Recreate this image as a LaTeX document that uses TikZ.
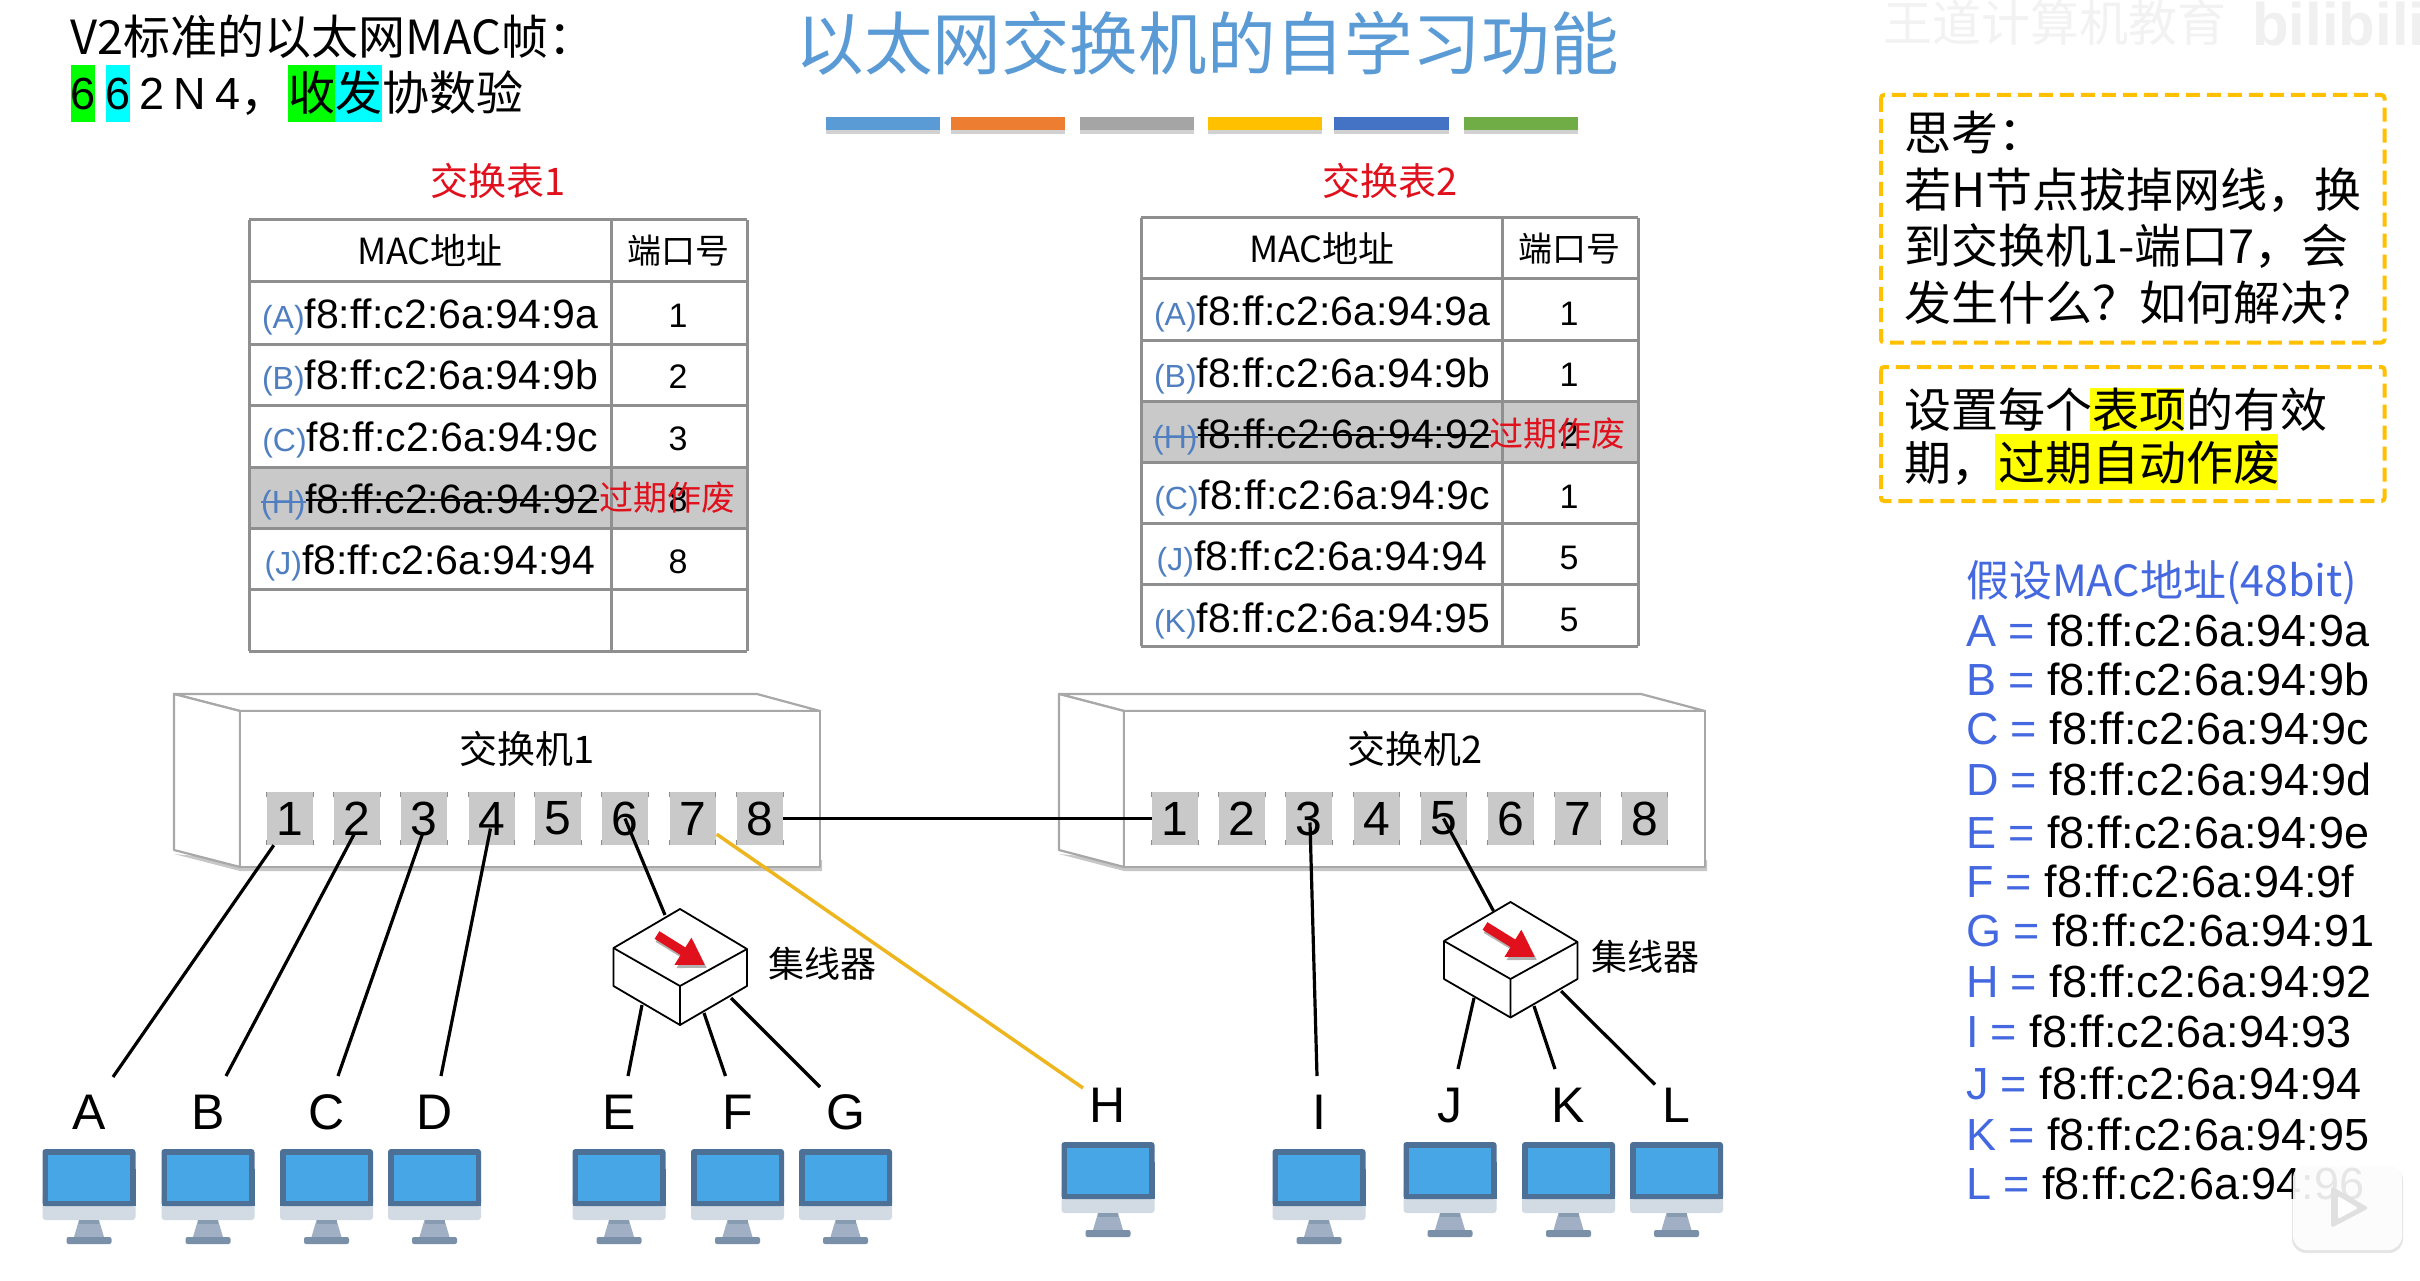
\documentclass[tikz,border=0pt]{standalone}
\usepackage{fontspec}
\setmainfont{Liberation Sans}
\newfontfamily\cjk{Noto Sans CJK SC}
\usetikzlibrary{arrows.meta}
\newcommand\myfs[1]{\fontsize{#1}{#1}\selectfont}
\newsavebox\strkbox
\newcommand\strk[1]{\sbox\strkbox{#1}\rlap{\usebox\strkbox}\rule[.3em]{\wd\strkbox}{2pt}}
\definecolor{titleblue}{HTML}{5B9BD5}
\definecolor{barorange}{HTML}{ED7D31}
\definecolor{bargray}{HTML}{A5A5A5}
\definecolor{baryellow}{HTML}{FFC000}
\definecolor{bardark}{HTML}{4472C4}
\definecolor{bargreen}{HTML}{70AD47}
\definecolor{listblue}{HTML}{4468E0}
\definecolor{tagblue}{HTML}{4F7FC0}
\definecolor{tline}{HTML}{8F8F8F}
\definecolor{rowgray}{HTML}{C9C9C9}
\definecolor{swline}{HTML}{A8A8A8}
\definecolor{wireorange}{HTML}{EDB61F}
\definecolor{hotred}{HTML}{E0101C}
\definecolor{pcframe}{HTML}{4D7096}
\definecolor{pcscreen}{HTML}{47A6E6}
\definecolor{pcchin}{HTML}{D2DAE4}
\definecolor{pcstand}{HTML}{A0AFC3}
\definecolor{pcbase}{HTML}{7A90A8}
\definecolor{hlgreen}{HTML}{00FF00}
\definecolor{hlcyan}{HTML}{00FFFF}
\definecolor{hlyellow}{HTML}{FFFF00}
\tikzset{
  x=1pt,y=-1pt,
  txt/.style={inner sep=0pt,outer sep=0pt,anchor=base},
  txtw/.style={inner sep=0pt,outer sep=0pt,anchor=base west},
  tbl/.style={draw=tline,line width=3pt},
  wire/.style={draw=black,line width=3.2pt},
  portbox/.style={fill=rowgray,inner sep=0pt,minimum width=46pt,minimum height=53pt,font=\myfs{48}},
  swbox/.style={draw=swline,line width=2.2pt,fill=white,line join=round},
  hubline/.style={draw=black,line width=1.8pt,fill=white,line join=round},
  dashbox/.style={draw=baryellow,line width=4pt,dash pattern=on 14pt off 7pt,rounded corners=3pt},
  pc/.pic={
    \fill[pcchin,rounded corners=3pt] (-46.5,45) rectangle (46.5,71);
    \fill[pcframe,rounded corners=3pt] (-46.5,0) rectangle (46.5,57);
    \fill[pcframe] (-46.5,20) rectangle (46.5,57);
    \fill[pcscreen] (-41,5.5) rectangle (41,51.5);
    \fill[pcstand] (-10,71) -- (10,71) -- (15,88) -- (-15,88) -- cycle;
    \fill[pcbase!90] (-10,71) rectangle (10,75);
    \fill[pcbase,rounded corners=2pt] (-22.5,88) rectangle (22.5,95);
  }
}
\begin{document}
\begin{tikzpicture}
\useasboundingbox (0,0) rectangle (2420,1281);
\fill[white] (0,0) rectangle (2420,1281);

% faint watermark
\node[txtw,text=black!5,font=\cjk\myfs{49}] (wm1) at (1883,42) {王道计算机教育};
\node[txtw,text=black!6,font=\bfseries\myfs{60}] (wm2) at (2252,46) {bilibili};

% frame summary, top left
\fill[hlgreen] (71,65) rectangle (95,122);
\fill[hlcyan] (106,65) rectangle (130,122);
\fill[hlgreen] (288,65) rectangle (335,122);
\fill[hlcyan] (335,65) rectangle (382,122);
\node[txtw,font=\cjk\myfs{47}] (hdr) at (70,55) {V2标准的以太网MAC帧：};
\foreach \c/\x [count=\i] in {6/83,6/118,2/152,N/190,4/228}
  \node[txt,font=\myfs{45}] (fld\i) at (\x,110) {\c};
\node[txtw,font=\cjk\myfs{47}] (fldc) at (240,111) {，};
\node[txtw,font=\cjk\myfs{47}] (fldt) at (288,111) {收发协数验};

% title and colour bars
\node[txt,font=\cjk\myfs{68.6},text=titleblue] (title) at (1207,70) {以太网交换机的自学习功能};
\foreach \a/\b/\c in {826/940/titleblue,951/1065/barorange,1080/1194/bargray,1208/1322/baryellow,1334/1449/bardark,1464/1578/bargreen}{
  \fill[black,opacity=.18] (\a,119) rectangle (\b,134);
  \fill[\c] (\a,117) rectangle (\b,130);
}

% table 1
\node[txt,font=\cjk\myfs{38},text=hotred] (tt1) at (498,196) {交换表1};
\fill[rowgray] (249,467) rectangle (747,528);
\foreach \y in {220,282,344,405,467,528,589,651}
  \draw[tbl] (249,\y) -- (747,\y);
\foreach \x in {249,611,747}
  \draw[tbl] (\x,220) -- (\x,651);
\node[txt,font=\cjk\myfs{36}] (h1a) at (430,265) {MAC地址};
\node[txt,font=\cjk\myfs{34}] (h1b) at (678,264) {端口号};
\foreach \y/\t/\a/\p [count=\i] in {328/A/9a/1,389/B/9b/2,451/C/9c/3,574/J/94/8}{
  \node[txt] (r1a\i) at (430,\y) {\myfs{32}\textcolor{tagblue}{(\t)}\myfs{41}f8:ff:c2:6a:94:\a};
  \node[txt,font=\myfs{34}] (r1b\i) at (678,\y-1) {\p};
}
\node[txt] (r1h) at (430,513) {\myfs{32}\textcolor{tagblue}{\strk{(H)}}\myfs{41}\strk{f8:ff:c2:6a:94:92}};
\node[txt,font=\myfs{34}] (r1hp) at (678,511) {8};
\node[txt,font=\cjk\myfs{34},text=hotred] (r1x) at (667,510) {过期作废};

% table 2
\node[txt,font=\cjk\myfs{38},text=hotred] (tt2) at (1390,196) {交换表2};
\fill[rowgray] (1141,401) rectangle (1638,462);
\foreach \y in {218,278.5,340,401,462,523,584,646}
  \draw[tbl] (1141,\y) -- (1638,\y);
\foreach \x in {1141,1502,1638}
  \draw[tbl] (\x,218) -- (\x,646);
\node[txt,font=\cjk\myfs{36}] (h2a) at (1322,263) {MAC地址};
\node[txt,font=\cjk\myfs{34}] (h2b) at (1569,262) {端口号};
\foreach \y/\t/\a/\p [count=\i] in {326/A/9a/1,387/B/9b/1,509/C/9c/1,570/J/94/5,632/K/95/5}{
  \node[txt] (r2a\i) at (1322,\y) {\myfs{32}\textcolor{tagblue}{(\t)}\myfs{41}f8:ff:c2:6a:94:\a};
  \node[txt,font=\myfs{34}] (r2b\i) at (1569,\y-1) {\p};
}
\node[txt] (r2h) at (1322,448) {\myfs{32}\textcolor{tagblue}{\strk{(H)}}\myfs{41}\strk{f8:ff:c2:6a:94:92}};
\node[txt,font=\myfs{34}] (r2hp) at (1569,446) {2};
\node[txt,font=\cjk\myfs{34},text=hotred] (r2x) at (1557,446) {过期作废};

% switch 1
\fill[black,opacity=.22] (174,854) -- (240,871) -- (822,871) -- (822,860) -- (240,860) -- cycle;
\draw[swbox] (174,694) -- (757,694) -- (820,711) -- (240,711) -- cycle;
\draw[swbox] (174,694) -- (240,711) -- (240,867) -- (174,850) -- cycle;
\draw[swbox] (240,711) rectangle (820,867);
\node[txt,font=\cjk\myfs{38}] (sw1) at (527,763) {交换机1};
\foreach \n/\x in {1/290,2/357,3/424,4/491.5,5/558,6/625,7/692.5,8/760}{
  \node[portbox] (sa\n) at (\x,818.5) {\n};
  \draw[black!45,line width=1.2pt] (sa\n.north west) -- ++(0,5) (sa\n.north east) -- ++(0,5) (sa\n.south west) -- ++(0,-5) (sa\n.south east) -- ++(0,-5);
}

% switch 2
\fill[black,opacity=.22] (1059,854) -- (1124,871) -- (1707,871) -- (1707,860) -- (1124,860) -- cycle;
\draw[swbox] (1059,694) -- (1641,694) -- (1705,711) -- (1124,711) -- cycle;
\draw[swbox] (1059,694) -- (1124,711) -- (1124,867) -- (1059,850) -- cycle;
\draw[swbox] (1124,711) rectangle (1705,867);
\node[txt,font=\cjk\myfs{38}] (sw2) at (1415,763) {交换机2};
\foreach \n/\x in {1/1175,2/1242,3/1309,4/1376.5,5/1443.5,6/1510.5,7/1577.5,8/1644.5}{
  \node[portbox] (sb\n) at (\x,818.5) {\n};
  \draw[black!45,line width=1.2pt] (sb\n.north west) -- ++(0,5) (sb\n.north east) -- ++(0,5) (sb\n.south west) -- ++(0,-5) (sb\n.south east) -- ++(0,-5);
}

% hub 1
\draw[hubline] (680,909) -- (747,949) -- (747,986) -- (680,1025) -- (613.5,986) -- (613.5,948) -- cycle;
\draw[hubline,fill=none] (613.5,948) -- (680,986) -- (747,949) (680,986) -- (680,1025);
\draw[draw=black,opacity=.3,line width=9pt,-{Triangle[length=26pt,width=30pt]}] (658,938) -- (707,968);
\draw[draw=hotred,line width=9pt,-{Triangle[length=26pt,width=30pt]}] (657,935) -- (705,965);
\node[txt,font=\cjk\myfs{36}] (hub1) at (822,977) {集线器};

% hub 2
\draw[hubline] (1510.5,902) -- (1577.5,942) -- (1577.5,979) -- (1510.5,1017.5) -- (1444,979) -- (1444,941) -- cycle;
\draw[hubline,fill=none] (1444,941) -- (1510.5,979) -- (1577.5,942) (1510.5,979) -- (1510.5,1017.5);
\draw[draw=black,opacity=.3,line width=9pt,-{Triangle[length=26pt,width=30pt]}] (1486,929) -- (1537,960);
\draw[draw=hotred,line width=9pt,-{Triangle[length=26pt,width=30pt]}] (1485,926) -- (1535,957);
\node[txt,font=\cjk\myfs{36}] (hub2) at (1645,970) {集线器};

% computers and their labels
\foreach \n/\x/\y in {A/89/1149,B/208/1149,C/326.5/1149,D/434.5/1149,E/619/1149,F/737.5/1149,G/845.5/1149,H/1108/1142,I/1319/1149,J/1450/1142,K/1568.5/1142,L/1676.5/1142}{
  \pic at (\x,\y) {pc};
  \node[txt,font=\myfs{50}] (lbl\n) at (\x,\y-20) {\n};
}

% connector ends
\coordinate (endA) at (113,1077);
\coordinate (endB) at (226,1076);
\coordinate (endC) at (338,1076);
\coordinate (endD) at (441,1076);
\coordinate (endE) at (628,1076);
\coordinate (endF) at (725.5,1076);
\coordinate (endG) at (820,1087);
\coordinate (endH) at (1083,1088);
\coordinate (endI) at (1317,1076);
\coordinate (endJ) at (1458,1069);
\coordinate (endK) at (1555,1069);
\coordinate (endL) at (1655,1084.5);
\coordinate (hubA) at (665,915);
\coordinate (hubAe) at (642,1005);
\coordinate (hubAf) at (704,1013);
\coordinate (hubAg) at (731,998);
\coordinate (hubB) at (1493.5,911);
\coordinate (hubBj) at (1474,998);
\coordinate (hubBk) at (1534,1006);
\coordinate (hubBl) at (1561,991);

% connectors
\draw[wire] (sa1.south west) ++(7,0) -- (endA);
\draw[wire] ([shift={(-2,14)}]sa2.center) -- (endB);
\draw[wire] ([shift={(-1,14)}]sa3.center) -- (endC);
\draw[wire] ([shift={(-1,10)}]sa4.center) -- (endD);
\draw[wire] (sa6.center) -- (hubA);
\draw[wire] (hubAe) -- (endE);
\draw[wire] (hubAf) -- (endF);
\draw[wire] (hubAg) -- (endG);
\draw[draw=wireorange,line width=3.5pt] ([shift={(1,-11)}]sa7.south east) -- (endH);
\draw[wire] (sa8.east) -- (sb1.west);
\draw[wire] ([shift={(1,4)}]sb3.center) -- (endI);
\draw[wire] (sb5.center) -- (hubB);
\draw[wire] (hubBj) -- (endJ);
\draw[wire] (hubBk) -- (endK);
\draw[wire] (hubBl) -- (endL);

% question boxes
\draw[dashbox] (1881,95) rectangle (2384.5,342.5);
\draw[dashbox] (1881,367) rectangle (2384.5,501);
\fill[hlyellow] (2090,388) rectangle (2184,431);
\fill[hlyellow] (1995,434) rectangle (2278,490);
\node[txtw,font=\cjk\myfs{47}] (q1) at (1904,151) {思考：};
\node[txtw,font=\cjk\myfs{47}] (q2) at (1904,208) {若H节点拔掉网线，换};
\node[txtw,font=\cjk\myfs{47}] (q3) at (1904,264) {到交换机1-端口7，会};
\node[txtw,font=\cjk\myfs{47}] (q4) at (1904,320) {发生什么？如何解决？};
\node[txtw,font=\cjk\myfs{47}] (a1) at (1904,427) {设置每个表项的有效};
\node[txtw,font=\cjk\myfs{47}] (a2) at (1904,480) {期，过期自动作废};

% address list
\node[txtw,font=\cjk\myfs{43},text=listblue] (lst) at (1966,596) {假设MAC地址(48bit)};
\foreach \n/\a/\y in {A/9a/646,B/9b/695,C/9c/744,D/9d/795,E/9e/848,F/9f/897,G/91/946,H/92/997,I/93/1047,J/94/1099,K/95/1150,L/96/1199}
  \node[txtw,font=\myfs{45}] (ad\n) at (1966,\y) {\textcolor{listblue}{\n\ =} f8:ff:c2:6a:94:\a};

% play badge
\fill[black,opacity=.10,rounded corners=14pt] (2292,1166) rectangle (2403,1253);
\fill[white,opacity=.9,rounded corners=14pt] (2293,1164) rectangle (2402,1250);
\draw[white,opacity=.9,line width=5pt,line cap=round] (2322,1152) -- (2338,1166) (2374,1152) -- (2358,1166);
\fill[black!12,rounded corners=3pt] (2331,1186) -- (2369,1208) -- (2331,1228) -- cycle;
\fill[white,rounded corners=2pt] (2338,1196) -- (2358,1208) -- (2338,1219) -- cycle;
\end{tikzpicture}
\end{document}
